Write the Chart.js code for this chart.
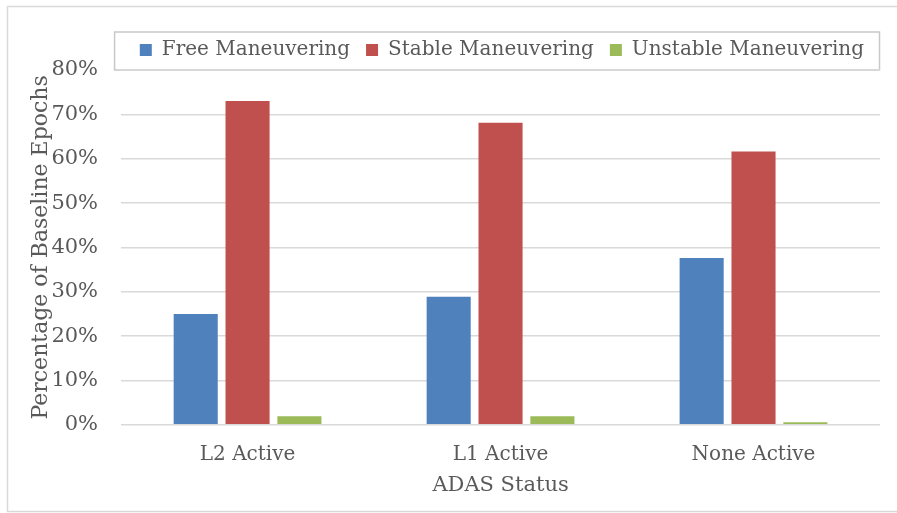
<!DOCTYPE html>
<html>
<head>
<meta charset="utf-8">
<script src="https://cdn.jsdelivr.net/npm/chart.js@4"></script>
<style>
  html, body { margin: 0; padding: 0; background: #fff; }
  #wrap { width: 897px; height: 513px; position: relative; }
</style>
</head>
<body>
<div id="wrap"><canvas id="myChart"></canvas></div>
<script>
// categories and series values (percent of baseline epochs)
const categories = ["L2 Active", "L1 Active", "None Active"];
const freeManeuvering = [25.0, 28.9, 37.6];
const stableManeuvering = [73.0, 68.1, 61.6];
const unstableManeuvering = [1.9, 1.9, 0.6];
const yTicks = [0, 10, 20, 30, 40, 50, 60, 70, 80];

const textColor = "#595959";
const gridColor = "#D9D9D9";
const serif = "'DejaVu Serif', serif";

// draws the outer frame and the box around the legend
const framePlugin = {
  id: "frame",
  beforeDraw(chart) {
    const ctx = chart.ctx;
    const area = chart.chartArea;
    ctx.save();
    ctx.fillStyle = "#fff";
    ctx.fillRect(0, 0, chart.width, chart.height);
    ctx.strokeStyle = gridColor;
    ctx.lineWidth = 1.5;
    ctx.strokeRect(7.5, 6.5, chart.width + 10, chart.height - 8);
    ctx.strokeStyle = "#C8C8C8";
    ctx.strokeRect(area.left - 6.5, area.top - 38, area.right - area.left + 6, 38);
    ctx.restore();
  },
};

let myChart = new Chart(document.getElementById("myChart").getContext("2d"), {
  type: "bar",
  data: {
    labels: categories,
    datasets: [
      { label: "Free Maneuvering", data: freeManeuvering, backgroundColor: "#4F81BD" },
      { label: "Stable Maneuvering", data: stableManeuvering, backgroundColor: "#C0504D" },
      { label: "Unstable Maneuvering", data: unstableManeuvering, backgroundColor: "#9BBB59" },
    ],
  },
  options: {
    responsive: true,
    maintainAspectRatio: false,
    animation: false,
    categoryPercentage: 0.615,
    barPercentage: 0.85,
    layout: { padding: { top: 24, right: 17, bottom: 15, left: 28 } },
    scales: {
      x: {
        grid: { display: false },
        border: { display: false },
        ticks: { color: textColor, font: { family: serif, size: 20 }, padding: 10 },
        title: {
          display: true,
          text: "ADAS Status",
          color: textColor,
          font: { family: serif, size: 21 },
          padding: { top: -4, bottom: 0 },
        },
      },
      y: {
        min: 0,
        max: 80,
        afterBuildTicks(scale) {
          scale.ticks = yTicks.map((v) => ({ value: v }));
        },
        grid: { color: gridColor, lineWidth: 1.5, drawTicks: false },
        border: { display: false },
        ticks: {
          color: textColor,
          font: { family: serif, size: 21 },
          padding: 23,
          callback: (v) => v + "%",
        },
        title: {
          display: true,
          text: "Percentage of Baseline Epochs",
          color: textColor,
          font: { family: serif, size: 22 },
          padding: { top: 0, bottom: -26 },
        },
      },
    },
    plugins: {
      legend: {
        position: "top",
        align: "end",
        labels: {
          color: textColor,
          font: { family: serif, size: 20 },
          boxWidth: 12,
          boxHeight: 12,
          padding: 16,
        },
      },
      tooltip: { enabled: false },
    },
  },
  plugins: [framePlugin],
});
</script>
</body>
</html>
